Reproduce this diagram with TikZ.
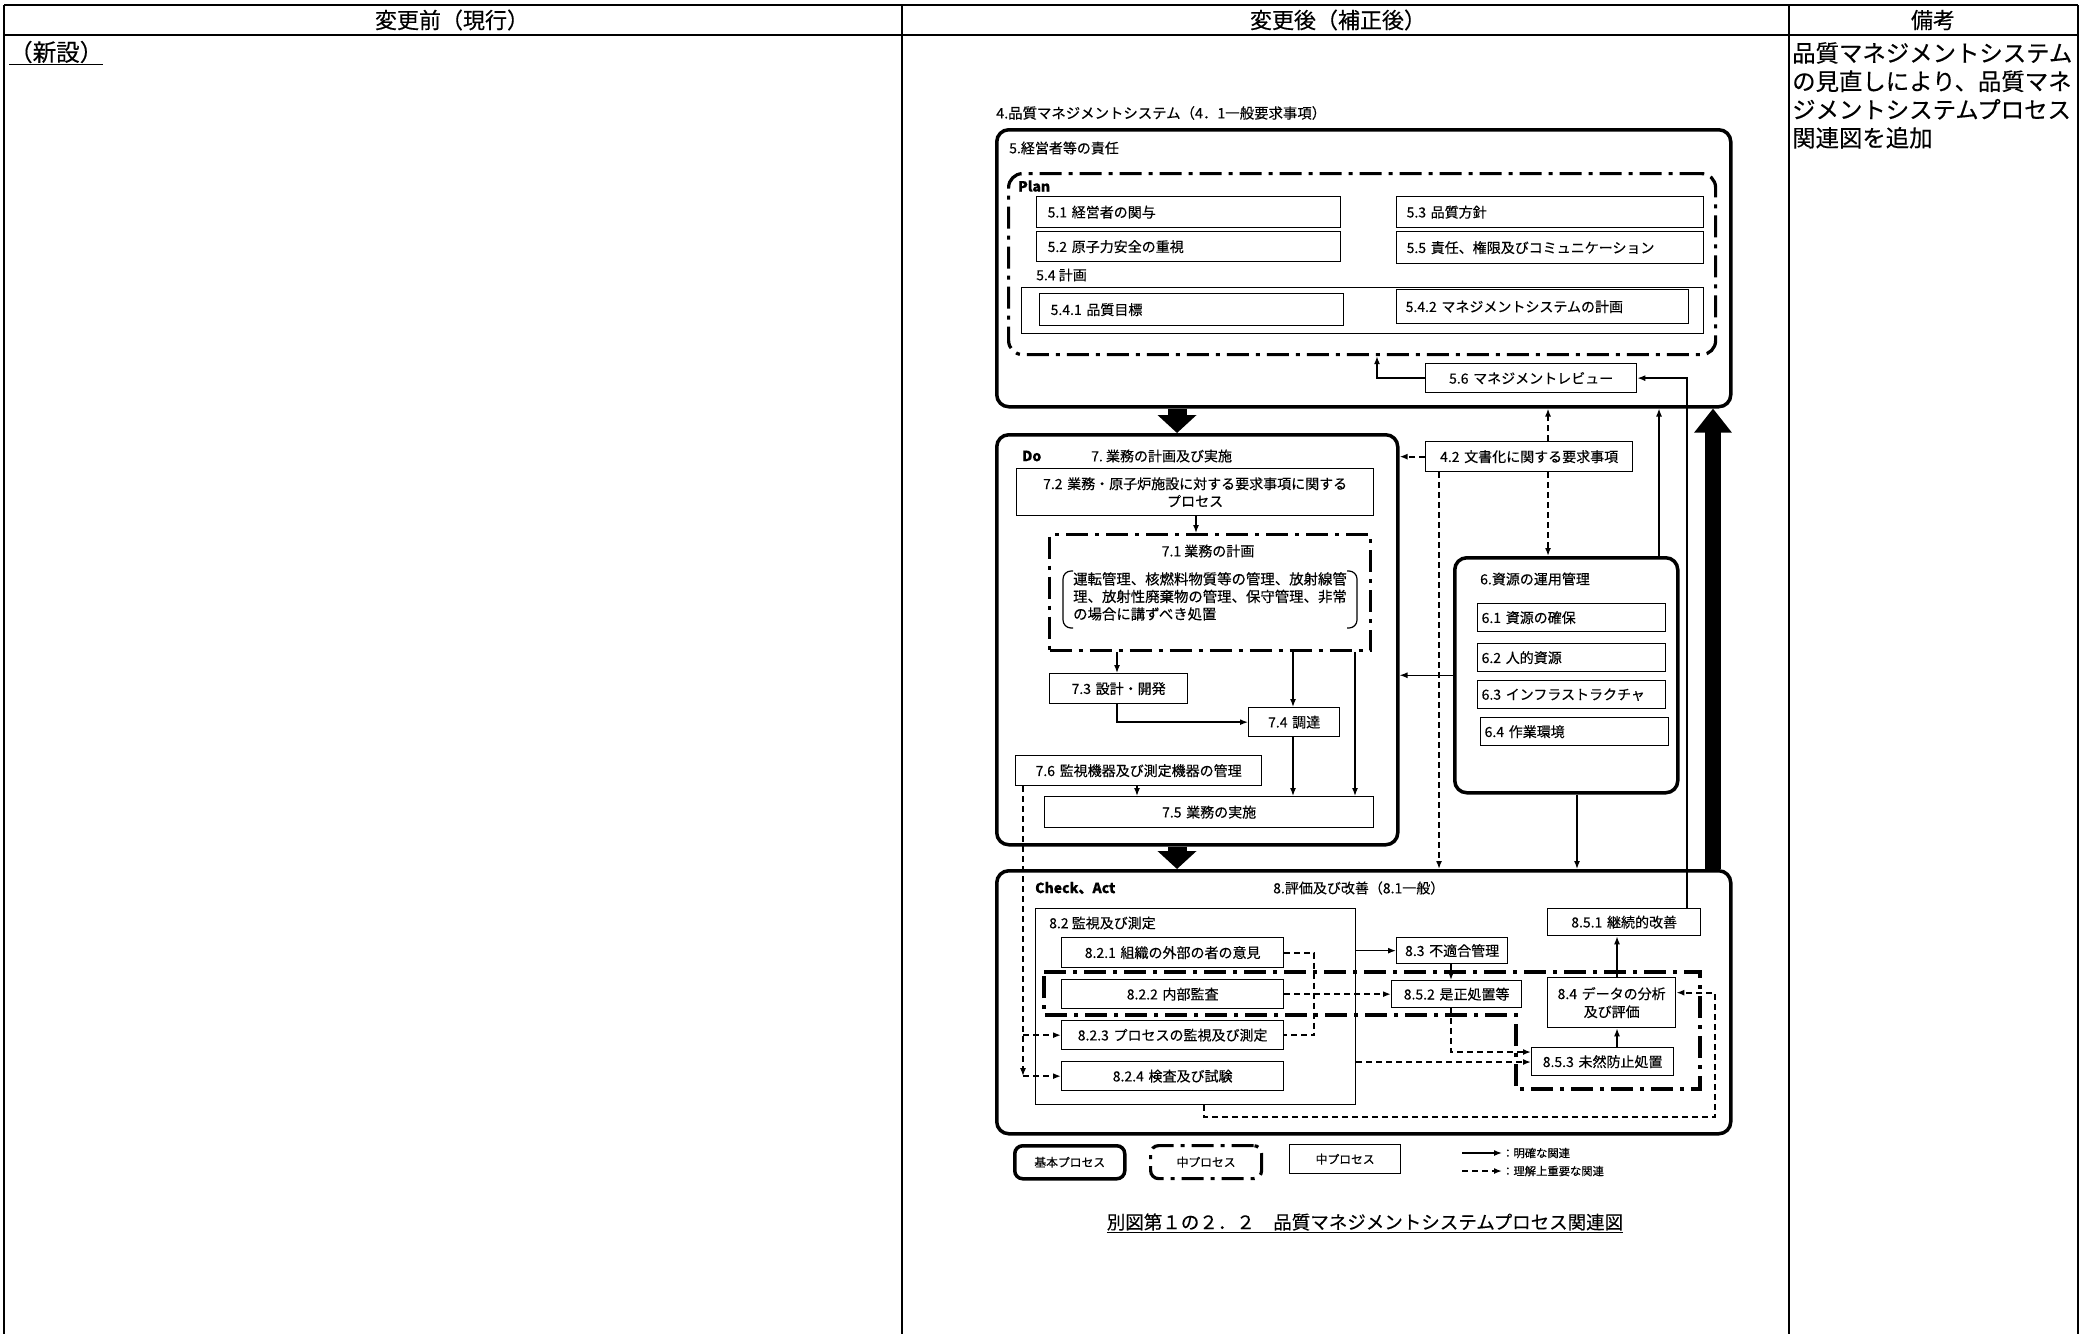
\documentclass[tikz,border=0pt]{standalone}
\usepackage{fontspec}
\setmainfont{Noto Sans CJK JP}[FakeBold=0.3]
\usetikzlibrary{arrows.meta}
\newcommand\myfs[2]{\fontsize{#1}{#2}\selectfont}
\begin{document}
\begin{tikzpicture}[x=1pt,y=-1pt,
  bx/.style={draw, line width=1.3pt, anchor=north west, inner sep=0pt, font=\myfs{14}{17}},
  tb/.style={draw, line width=3.5pt, rounded corners=12pt, anchor=north west, inner sep=0pt},
  ddash/.style={line width=3.2pt, dash pattern=on 22pt off 7pt on 4pt off 7pt},
  lbl/.style={anchor=west, inner sep=0pt, font=\myfs{14}{17}},
  arr/.style={line width=1.4pt, -{Latex[length=8pt,width=6pt]}},
  darr/.style={line width=1.9pt, dash pattern=on 6pt off 4pt, -{Latex[length=8pt,width=6pt]}},
  dln/.style={line width=1.9pt, dash pattern=on 6pt off 4pt},
  blkdown/.style={line width=19pt, -{Triangle[width=38pt,length=18pt]}},
  blkup/.style={line width=16pt, -{Triangle[width=36pt,length=24pt]}}
]
\fill[white] (0,0) rectangle (2090,1334);
\useasboundingbox (0,0) rectangle (2090,1334);

% ---------- table ----------
\draw[line width=1.3pt] (4,5) -- (2078,5);
\draw[line width=1.3pt] (4,35) -- (2078,35);
\draw[line width=1.3pt] (4,5) -- (4,1334);
\draw[line width=1.3pt] (902,5) -- (902,1334);
\draw[line width=1.3pt] (1789,5) -- (1789,1334);
\draw[line width=1.3pt] (2078,5) -- (2078,1334);
\node[font=\myfs{22}{25}] (h1) at (452,20) {変更前（現行）};
\node[font=\myfs{22}{25}] (h2) at (1338,20) {変更後（補正後）};
\node[font=\myfs{22}{25}] (h3) at (1933,20) {備考};
\node[anchor=west, inner sep=0pt, font=\myfs{23.5}{27}] (shinsetsu) at (9,53) {\underline{（新設）}};
\node[anchor=north west, inner sep=0pt, text width=290pt, align=left, font=\myfs{23.4}{28.3}] (biko) at (1792,42)
  {品質マネジメントシステム\\の見直しにより、品質マネ\\ジメントシステムプロセス\\関連図を追加};

% ---------- title ----------
\node[lbl, font=\myfs{14.4}{17}] (title) at (996,113) {4.品質マネジメントシステム（4．1一般要求事項）};

% ---------- 5 ----------
\node[tb, minimum width=734pt, minimum height=277pt] (p5) at (995,128) {};
\node[lbl] (t5) at (1009,148) {5.経営者等の責任};
\node[draw, ddash, rounded corners=14pt, anchor=north west, minimum width=707pt, minimum height=181pt, inner sep=0pt] (plan) at (1007,172) {};
\node[lbl, font=\myfs{14}{17}\bfseries] (tplan) at (1018,186) {Plan};
\node[bx, minimum width=304pt, minimum height=31pt, text width=282pt, align=left] (b51) at (1036,196) {5.1~経営者の関与};
\node[bx, minimum width=307pt, minimum height=31pt, text width=287pt, align=left] (b53) at (1396,196) {5.3~品質方針};
\node[bx, minimum width=304pt, minimum height=30pt, text width=282pt, align=left] (b52) at (1036,231) {5.2~原子力安全の重視};
\node[bx, minimum width=307pt, minimum height=32pt, text width=287pt, align=left] (b55) at (1396,231) {5.5~責任、権限及びコミュニケーション};
\node[lbl] (t54) at (1036,275) {5.4~計画};
\node[draw, line width=1pt, anchor=north west, minimum width=682pt, minimum height=46pt, inner sep=0pt] (b54) at (1021,287) {};
\node[bx, minimum width=304pt, minimum height=32pt, text width=282pt, align=left] (b541) at (1039,293) {5.4.1~品質目標};
\node[bx, minimum width=292pt, minimum height=34pt, text width=274pt, align=left] (b542) at (1396,289) {5.4.2~マネジメントシステムの計画};
\node[bx, minimum width=211pt, minimum height=29pt, text width=200pt, align=center] (b56) at (1425,363) {5.6~マネジメントレビュー};

% ---------- 7 (Do) ----------
\node[tb, minimum width=401pt, minimum height=410pt] (do) at (995,433) {};
\node[lbl, font=\myfs{14}{17}\bfseries] (tdo) at (1022,456) {Do};
\node[lbl] (t7) at (1091,456) {7.~業務の計画及び実施};
\node[bx, minimum width=357pt, minimum height=47pt, text width=345pt, align=center, font=\myfs{14}{17.5}] (b72) at (1016,468)
  {7.2~業務・原子炉施設に対する要求事項に関する\\プロセス};
\node[draw, ddash, anchor=north west, minimum width=321pt, minimum height=116pt, inner sep=0pt] (b71) at (1048,533) {};
\node[font=\myfs{14}{17}, inner sep=0pt] (t71) at (1208,551) {7.1~業務の計画};
\node[anchor=north west, inner sep=0pt, text width=285pt, align=left, font=\myfs{14.4}{17.5}] (t71b) at (1073,572)
  {運転管理、核燃料物質等の管理、放射線管\\理、放射性廃棄物の管理、保守管理、非常\\の場合に講ずべき処置};
\draw[line width=1.2pt, rounded corners=8pt] (1073,571) -- (1063,571) -- (1063,628) -- (1073,628);
\draw[line width=1.2pt, rounded corners=8pt] (1347,571) -- (1357,571) -- (1357,628) -- (1347,628);
\node[bx, minimum width=138pt, minimum height=30pt, text width=130pt, align=center] (b73) at (1049,673) {7.3~設計・開発};
\node[bx, minimum width=91pt, minimum height=29pt, text width=85pt, align=center] (b74) at (1248,707) {7.4~調達};
\node[bx, minimum width=246pt, minimum height=30pt, text width=238pt, align=center] (b76) at (1015,755) {7.6~監視機器及び測定機器の管理};
\node[bx, minimum width=329pt, minimum height=31pt, text width=320pt, align=center] (b75) at (1044,796) {7.5~業務の実施};

% ---------- 4.2 ----------
\node[bx, minimum width=207pt, minimum height=30pt, text width=200pt, align=center] (b42) at (1425,441) {4.2~文書化に関する要求事項};

% ---------- 6 ----------
\node[tb, minimum width=223pt, minimum height=235pt] (res) at (1453,556) {};
\node[lbl] (t6) at (1480,579) {6.資源の運用管理};
\node[bx, minimum width=188pt, minimum height=28pt, text width=180pt, align=left] (b61) at (1477,603) {6.1~資源の確保};
\node[bx, minimum width=188pt, minimum height=28pt, text width=180pt, align=left] (b62) at (1477,643) {6.2~人的資源};
\node[bx, minimum width=188pt, minimum height=28pt, text width=180pt, align=left] (b63) at (1477,680) {6.3~インフラストラクチャ};
\node[bx, minimum width=188pt, minimum height=28pt, text width=180pt, align=left] (b64) at (1480,717) {6.4~作業環境};

% ---------- 8 (Check, Act) ----------
\node[tb, minimum width=734pt, minimum height=263pt] (chk) at (995,869) {};
\node[lbl, font=\myfs{14}{17}\bfseries] (tchk) at (1035,888) {Check、Act};
\node[lbl] (t8) at (1273,888) {8.評価及び改善（8.1一般）};
\node[bx, minimum width=320pt, minimum height=196pt] (b82) at (1035,908) {};
\node[lbl] (t82) at (1049,923) {8.2~監視及び測定};
\node[bx, minimum width=222pt, minimum height=30pt, text width=215pt, align=center] (b821) at (1061,937) {8.2.1~組織の外部の者の意見};
\node[bx, minimum width=222pt, minimum height=29pt, text width=215pt, align=center] (b822) at (1061,979) {8.2.2~内部監査};
\node[bx, minimum width=222pt, minimum height=29pt, text width=215pt, align=center] (b823) at (1061,1020) {8.2.3~プロセスの監視及び測定};
\node[bx, minimum width=222pt, minimum height=29pt, text width=215pt, align=center] (b824) at (1061,1061) {8.2.4~検査及び試験};
\node[bx, minimum width=111pt, minimum height=26pt, text width=107pt, align=center] (b83) at (1396,937) {8.3~不適合管理};
\node[bx, minimum width=130pt, minimum height=27pt, text width=126pt, align=center] (b852) at (1391,980) {8.5.2~是正処置等};
\node[bx, minimum width=153pt, minimum height=27pt, text width=146pt, align=center] (b851) at (1547,908) {8.5.1~継続的改善};
\node[bx, minimum width=128pt, minimum height=50pt, text width=124pt, align=center, font=\myfs{14}{18}] (b84) at (1547,977) {8.4~データの分析\\及び評価};
\node[bx, minimum width=142pt, minimum height=28pt, text width=138pt, align=center] (b853) at (1531,1047) {8.5.3~未然防止処置};
\draw[ddash] (1044,972) -- (1700,972) -- (1700,1089) -- (1516,1089) -- (1516,1015) -- (1044,1015) -- cycle;

% ---------- legend ----------
\node[tb, rounded corners=8pt, minimum width=110pt, minimum height=33pt, font=\myfs{11.8}{14}] (lg1) at (1013,1144) {基本プロセス};
\node[draw, ddash, rounded corners=8pt, anchor=north west, inner sep=0pt, minimum width=111pt, minimum height=33pt, font=\myfs{11.8}{14}] (lg2) at (1149,1144) {中プロセス};
\node[bx, minimum width=111pt, minimum height=29pt, font=\myfs{11.8}{14}] (lg3) at (1289,1144) {中プロセス};
\coordinate (la) at (1462,1153);
\coordinate (lb) at (1462,1171);
\node[lbl, font=\myfs{11.3}{13}] (lt1) at (1502,1153) {：明確な関連};
\node[lbl, font=\myfs{11.3}{13}] (lt2) at (1502,1171) {：理解上重要な関連};
\draw[arr] (la) -- (lt1.west);
\draw[darr] (lb) -- (lt2.west);

\node[font=\myfs{18.5}{22}] (cap) at (1365,1223) {\underline{別図第１の２．２　品質マネジメントシステムプロセス関連図}};

% ---------- x/y helper coordinates ----------
\coordinate (xa) at (1177,0);
\coordinate (xb) at (1713,0);
\coordinate (x56) at (1377,0);
\coordinate (x851) at (1687,0);
\coordinate (x72) at (1196,0);
\coordinate (x73) at (1117,0);
\coordinate (x74) at (1293,0);
\coordinate (x75) at (1355,0);
\coordinate (x76) at (1137,0);
\coordinate (x76d) at (1023,0);
\coordinate (x42a) at (1548,0);
\coordinate (x42b) at (1439,0);
\coordinate (xr1) at (1659,0);
\coordinate (xr2) at (1577,0);
\coordinate (x83) at (1451,0);
\coordinate (x84) at (1617,0);
\coordinate (x82b) at (1204,0);
\coordinate (xloop) at (1715,0);
\coordinate (ybot) at (0,1117);
\coordinate (y853a) at (0,1052);
\coordinate (y853b) at (0,1062);

% ---------- connectors ----------
\draw[blkdown] (xa |- p5.south) -- (xa |- do.north);
\draw[blkdown] (xa |- do.south) -- (xa |- chk.north);
\draw[blkup] (xb |- chk.north) -- (xb |- p5.south);

\draw[arr] (b56.west) -| (x56 |- plan.south);
\draw[arr] (x851 |- b851.north) |- (b56.east);
\draw[arr] (x72 |- b72.south) -- (x72 |- b71.north);
\draw[arr] (x73 |- b71.south) -- (x73 |- b73.north);
\draw[arr] (x74 |- b71.south) -- (x74 |- b74.north);
\draw[arr] (x74 |- b74.south) -- (x74 |- b75.north);
\draw[arr] (x75 |- b71.south) -- (x75 |- b75.north);
\draw[arr] (x73 |- b73.south) |- (b74.west);
\draw[arr] (x76 |- b76.south) -- (x76 |- b75.north);
\draw[darr] (x76d |- b76.south) -- (x76d |- b824.west);
\draw[darr] (x76d |- b823.west) -- (b823.west);
\draw[darr] (x76d |- b824.west) -- (b824.west);

\draw[darr] (b42.west) -- (b42.west -| do.east);
\draw[darr] (x42a |- b42.north) -- (x42a |- p5.south);
\draw[darr] (x42a |- b42.south) -- (x42a |- res.north);
\draw[darr] (x42b |- b42.south) -- (x42b |- chk.north);

\draw[arr] (res.west) -- (res.west -| do.east);
\draw[arr] (xr1 |- res.north) -- (xr1 |- p5.south);
\draw[arr] (xr2 |- res.south) -- (xr2 |- chk.north);

\draw[arr] (b83.west -| b82.east) -- (b83.west);
\draw[arr] (x83 |- b83.south) -- (x83 |- b852.north);
\draw[dln] (b821.east) -- ++(30,0) |- (b823.east);
\draw[darr] (b822.east) -- (b852.west);
\draw[darr] (x83 |- b852.south) |- (b853.west |- y853a);
\draw[darr] (b82.east |- y853b) -- (b853.west |- y853b);
\draw[arr] (x84 |- b853.north) -- (x84 |- b84.south);
\draw[arr] (x84 |- b84.north) -- (x84 |- b851.south);
\draw[darr] (x82b |- b82.south) |- (xloop |- ybot) |- ([yshift=10pt]b84.east);
\end{tikzpicture}
\end{document}
